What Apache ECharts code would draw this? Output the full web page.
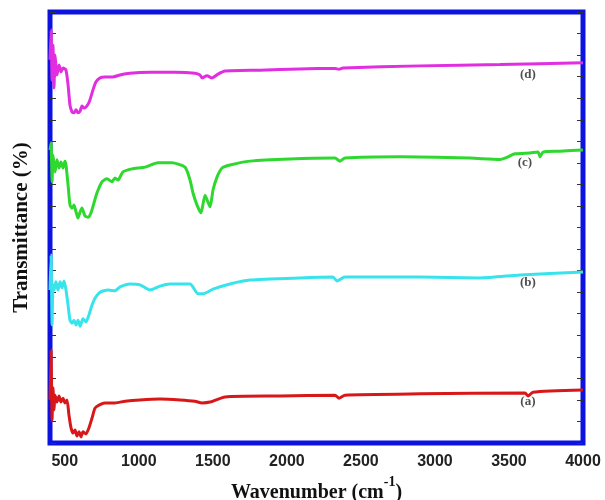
<!DOCTYPE html>
<html>
<head>
<meta charset="utf-8">
<script src="https://cdn.jsdelivr.net/npm/echarts@6/dist/echarts.min.js"></script>
<style>
  html, body { margin: 0; padding: 0; background: #fff; }
  #chart { width: 605px; height: 500px; }
</style>
</head>
<body>
<div id="chart"></div>
<script>
// 波数 (cm-1) 和透过率，从图上读出来的
const wnA = [400, 407, 414, 420, 427, 434, 447, 461, 474, 488, 501, 515, 528, 542, 555, 569, 582, 596, 609, 623, 643, 663, 684, 704, 731, 771, 839, 907, 1008, 1143, 1278, 1379, 1427, 1481, 1582, 1953, 2325, 2352, 2392, 2899, 3608, 3629, 3662, 4000]
const tA = [10.0, 21.6, 5.3, 12.8, 7.7, 11.1, 9.5, 10.9, 9.5, 10.4, 9.3, 10.0, 6.5, 3.5, 2.3, 3.0, 1.6, 2.6, 1.4, 2.6, 2.1, 3.5, 5.8, 8.1, 8.8, 9.3, 9.3, 9.7, 10.0, 10.2, 10.0, 9.7, 9.3, 9.5, 10.7, 10.9, 11.1, 10.4, 11.1, 11.4, 11.6, 10.9, 11.8, 12.3]

const wnB = [400, 407, 414, 420, 427, 440, 454, 468, 481, 495, 508, 522, 535, 549, 562, 576, 589, 603, 623, 643, 663, 684, 704, 738, 792, 839, 873, 940, 1008, 1075, 1143, 1210, 1346, 1400, 1433, 1501, 1616, 1751, 2088, 2311, 2338, 2392, 2899, 3304, 3574, 4000]
const tB = [35.5, 43.6, 27.4, 36.7, 35.5, 37.4, 35.5, 37.4, 36.0, 37.6, 35.5, 32.0, 28.5, 27.8, 28.5, 27.4, 28.5, 27.1, 28.8, 28.1, 29.7, 32.0, 33.6, 35.0, 35.5, 35.3, 36.2, 36.9, 36.7, 35.5, 36.4, 36.9, 36.9, 34.6, 34.6, 35.7, 36.9, 37.8, 38.3, 38.5, 37.6, 38.5, 38.5, 38.3, 39.0, 39.7]

const wnC = [400, 407, 414, 420, 434, 447, 461, 474, 488, 501, 508, 522, 535, 549, 562, 576, 589, 603, 616, 636, 657, 677, 697, 717, 751, 785, 819, 839, 859, 893, 954, 1042, 1129, 1224, 1312, 1346, 1366, 1393, 1420, 1447, 1481, 1501, 1528, 1562, 1616, 1751, 2021, 2325, 2359, 2392, 2764, 3237, 3439, 3473, 3541, 3642, 3696, 3710, 3730, 3845, 4000]
const tC = [68.0, 69.6, 60.6, 66.8, 62.9, 65.7, 63.8, 65.2, 63.8, 65.4, 64.5, 59.9, 55.2, 54.5, 55.2, 53.6, 52.2, 53.6, 54.5, 52.7, 52.4, 53.4, 55.7, 58.0, 60.6, 61.3, 60.6, 61.5, 61.0, 62.9, 63.6, 64.0, 65.0, 65.0, 64.0, 61.0, 58.0, 55.2, 53.4, 57.5, 54.8, 58.7, 61.7, 63.8, 64.5, 65.4, 65.9, 66.1, 65.4, 66.1, 66.4, 66.1, 65.8, 66.1, 67.1, 67.3, 67.5, 66.4, 67.5, 67.7, 68.0]

const wnD = [400, 407, 414, 420, 427, 434, 447, 461, 474, 488, 508, 522, 535, 549, 562, 576, 589, 603, 616, 630, 650, 670, 690, 711, 738, 771, 819, 873, 940, 1075, 1244, 1379, 1413, 1427, 1460, 1494, 1535, 1582, 1818, 2088, 2325, 2352, 2379, 2899, 3440, 4000]
const tD = [88.9, 95.8, 84.2, 92.3, 82.4, 90.0, 85.4, 87.7, 86.1, 87.0, 86.5, 83.1, 78.4, 76.8, 76.6, 77.3, 76.6, 77.0, 78.2, 77.7, 78.2, 79.6, 81.9, 83.8, 84.7, 84.9, 84.9, 85.4, 85.8, 86.0, 86.0, 85.8, 85.4, 84.7, 85.2, 84.7, 85.6, 86.3, 86.5, 86.8, 86.9, 86.7, 87.0, 87.5, 87.8, 88.2]

// 曲线旁边的标注
const labelNames = ['(a)', '(b)', '(c)', '(d)']
const labelWn = [3628, 3628, 3608, 3628]
const labelT = [9.5, 37.1, 65.0, 85.4]

// x轴刻度文字
const tickLabels = [500, 1000, 1500, 2000, 2500, 3000, 3500, 4000]

const colors = ['#d81818', '#38e4ec', '#2ed82e', '#e02ee0']

const pairs = (x, y) => x.map((v, i) => [v, y[i]])

const chart = echarts.init(document.getElementById('chart'))

const lineSeries = (data, color) => ({
  type: 'line',
  data: data,
  showSymbol: false,
  symbol: 'none',
  smooth: 0.2,
  lineStyle: { color: color, width: 3 },
  z: 2
})

const yAxisBase = {
  type: 'value',
  min: 0,
  max: 100,
  interval: 5,
  axisLine: { show: false },
  axisTick: { show: true, inside: true, length: 6, lineStyle: { color: '#333', width: 1 } },
  axisLabel: { show: false },
  splitLine: { show: false }
}

const option = {
  animation: false,
  backgroundColor: '#fff',
  grid: {
    left: 50,
    right: 22,
    top: 12,
    bottom: 57,
    // v6 默认会自动收缩网格，这里关掉
    outerBoundsMode: 'none',
    containLabel: false,
    show: true,
    borderColor: '#0c12e0',
    borderWidth: 5,
    backgroundColor: 'transparent'
  },
  xAxis: {
    type: 'value',
    min: 400,
    max: 4000,
    interval: 100,
    axisLine: { show: false },
    axisTick: { show: false },
    splitLine: { show: false },
    axisLabel: {
      margin: 11,
      fontFamily: 'Liberation Sans',
      fontWeight: 'bold',
      fontSize: 16,
      color: '#222',
      formatter: v => (tickLabels.includes(v) ? String(v) : '')
    },
    name: '{n|Wavenumber (cm}{s|-1}{n|)}',
    nameLocation: 'middle',
    nameGap: 24,
    nameTextStyle: {
      rich: {
        n: { fontFamily: 'Liberation Serif', fontWeight: 'bold', fontSize: 20, color: '#111', lineHeight: 28, verticalAlign: 'bottom' },
        s: { fontFamily: 'Liberation Serif', fontWeight: 'bold', fontSize: 14, color: '#111', lineHeight: 14, verticalAlign: 'top' }
      }
    }
  },
  yAxis: [
    Object.assign({}, yAxisBase, {
      position: 'left',
      name: 'Transmittance (%)',
      nameLocation: 'middle',
      nameGap: 18,
      nameTextStyle: { fontFamily: 'Liberation Serif', fontWeight: 'bold', fontSize: 21, color: '#111' }
    }),
    Object.assign({}, yAxisBase, { position: 'right' })
  ],
  series: [
    lineSeries(pairs(wnA, tA), colors[0]),
    lineSeries(pairs(wnB, tB), colors[1]),
    lineSeries(pairs(wnC, tC), colors[2]),
    lineSeries(pairs(wnD, tD), colors[3]),
    {
      type: 'scatter',
      symbolSize: 0,
      data: labelWn.map((w, i) => [w, labelT[i], labelNames[i]]),
      label: {
        show: true,
        position: 'inside',
        formatter: p => p.value[2],
        fontFamily: 'Liberation Serif',
        fontWeight: 'bold',
        fontSize: 13,
        color: '#222'
      },
      z: 3
    }
  ]
}

chart.setOption(option)
</script>
</body>
</html>
